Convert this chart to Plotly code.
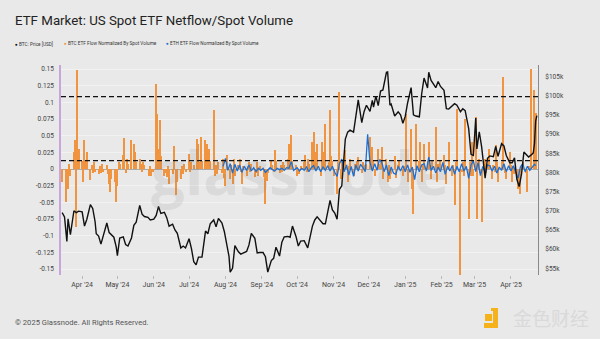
import plotly.graph_objects as go

# ---------------- data ----------------
price_dates = [
    "2024-03-15","2024-03-17","2024-03-19","2024-03-20","2024-03-22","2024-03-25","2024-03-27","2024-03-29",
    "2024-04-01","2024-04-03","2024-04-05","2024-04-08","2024-04-10","2024-04-12","2024-04-13","2024-04-15",
    "2024-04-17","2024-04-19","2024-04-22","2024-04-24","2024-04-26","2024-04-28","2024-04-30","2024-05-01",
    "2024-05-03","2024-05-06","2024-05-08","2024-05-10","2024-05-13","2024-05-15","2024-05-17","2024-05-20",
    "2024-05-22","2024-05-24","2024-05-27","2024-05-29","2024-06-01","2024-06-03","2024-06-05","2024-06-07",
    "2024-06-10","2024-06-12","2024-06-14","2024-06-17","2024-06-19","2024-06-21","2024-06-24","2024-06-26",
    "2024-06-28","2024-07-01","2024-07-03","2024-07-05","2024-07-07","2024-07-09","2024-07-12","2024-07-15",
    "2024-07-17","2024-07-19","2024-07-22","2024-07-24","2024-07-26","2024-07-29","2024-07-31","2024-08-02",
    "2024-08-04","2024-08-05","2024-08-07","2024-08-09","2024-08-12","2024-08-14","2024-08-16","2024-08-19",
    "2024-08-21","2024-08-23","2024-08-26","2024-08-28","2024-08-30","2024-09-02","2024-09-04","2024-09-06",
    "2024-09-09","2024-09-11","2024-09-13","2024-09-16","2024-09-18","2024-09-20","2024-09-23","2024-09-25",
    "2024-09-27","2024-09-30","2024-10-02","2024-10-04","2024-10-07","2024-10-10","2024-10-14","2024-10-16",
    "2024-10-18","2024-10-21","2024-10-23","2024-10-25","2024-10-29","2024-10-31","2024-11-02","2024-11-04",
    "2024-11-06","2024-11-08","2024-11-11","2024-11-13","2024-11-15","2024-11-18","2024-11-20","2024-11-22",
    "2024-11-25","2024-11-27","2024-11-29","2024-12-02","2024-12-04","2024-12-05","2024-12-07","2024-12-09",
    "2024-12-11","2024-12-13","2024-12-16","2024-12-17","2024-12-19","2024-12-20","2024-12-23","2024-12-26",
    "2024-12-28","2024-12-30","2025-01-01","2025-01-03","2025-01-06","2025-01-08","2025-01-10","2025-01-13",
    "2025-01-15","2025-01-17","2025-01-20","2025-01-21","2025-01-23","2025-01-26","2025-01-27","2025-01-29",
    "2025-01-31","2025-02-03","2025-02-05","2025-02-07","2025-02-10","2025-02-12","2025-02-14","2025-02-17",
    "2025-02-19","2025-02-21","2025-02-24","2025-02-26","2025-02-28","2025-03-02","2025-03-03","2025-03-05",
    "2025-03-07","2025-03-10","2025-03-12","2025-03-14","2025-03-17","2025-03-19","2025-03-21","2025-03-24",
    "2025-03-26","2025-03-28","2025-03-31","2025-04-02","2025-04-04","2025-04-06","2025-04-08","2025-04-10",
    "2025-04-12","2025-04-14","2025-04-16","2025-04-18","2025-04-20","2025-04-21","2025-04-22","2025-04-23",
]
price_vals = [
    69.5, 68.4, 62.0, 67.9, 63.8, 70.0, 69.5, 69.9,
    69.7, 66.0, 67.8, 71.6, 70.6, 67.2, 64.0, 63.4,
    61.3, 63.8, 66.8, 64.3, 63.8, 63.1, 60.6, 58.3,
    62.9, 63.2, 61.2, 60.8, 62.9, 66.2, 67.0, 71.4,
    69.1, 68.5, 68.3, 67.6, 67.8, 68.8, 71.1, 69.3,
    69.6, 68.2, 66.0, 66.5, 65.0, 64.1, 60.3, 60.8,
    60.3, 62.7, 60.2, 56.7, 55.9, 57.9, 57.9, 64.7,
    64.0, 66.6, 67.6, 65.8, 68.0, 66.8, 64.6, 61.4,
    58.1, 54.0, 55.0, 60.9, 59.3, 58.7, 58.9, 59.4,
    61.1, 64.1, 62.8, 59.0, 59.1, 59.1, 58.0, 54.0,
    57.0, 57.6, 60.5, 58.2, 61.8, 63.2, 63.3, 63.1,
    66.0, 63.3, 60.8, 62.1, 62.2, 60.3, 66.0, 67.6,
    68.4, 67.4, 66.6, 66.6, 72.7, 70.2, 69.4, 67.8,
    75.6, 76.5, 88.7, 90.5, 91.0, 90.5, 94.3, 98.9,
    93.0, 95.9, 97.5, 95.9, 98.8, 97.0, 99.9, 97.4,
    101.2, 101.5, 106.1, 106.2, 97.5, 97.8, 94.7, 95.8,
    95.0, 92.8, 94.6, 98.1, 102.1, 95.0, 94.7, 94.5,
    100.5, 104.6, 102.0, 106.1, 104.0, 102.6, 102.1, 103.7,
    102.4, 101.4, 96.6, 96.5, 97.4, 97.9, 97.5, 95.8,
    96.6, 96.1, 91.4, 84.7, 84.4, 94.2, 86.1, 90.6,
    86.7, 78.5, 83.7, 84.3, 84.1, 86.8, 84.2, 87.5,
    86.9, 84.4, 82.5, 82.5, 83.8, 78.2, 76.3, 79.6,
    85.3, 84.5, 84.0, 84.5, 85.1, 87.5, 93.4, 94.8,
]

btc_flow = [
    ("2024-03-15",-0.02),("2024-03-18",-0.049),("2024-03-19",-0.012),("2024-03-20",-0.03),("2024-03-21",0.008),
    ("2024-03-22",-0.01),("2024-03-25",0.026),("2024-03-26",0.044),("2024-03-27",-0.087),("2024-03-28",0.149),
    ("2024-03-29",0.03),("2024-04-01",0.012),("2024-04-02",-0.02),("2024-04-03",0.044),("2024-04-04",0.012),
    ("2024-04-05",0.026),("2024-04-08",-0.016),("2024-04-09",0.006),("2024-04-10",-0.006),("2024-04-11",0.011),
    ("2024-04-12",-0.004),("2024-04-15",-0.008),("2024-04-16",0.004),("2024-04-17",-0.006),("2024-04-18",0.008),
    ("2024-04-19",-0.005),("2024-04-22",0.006),("2024-04-23",-0.008),("2024-04-24",-0.023),("2024-04-25",-0.034),
    ("2024-04-26",-0.015),("2024-04-29",-0.02),("2024-04-30",-0.049),("2024-05-01",-0.025),("2024-05-02",0.011),
    ("2024-05-03",0.008),("2024-05-06",0.021),("2024-05-07",0.046),("2024-05-08",-0.006),("2024-05-09",0.015),
    ("2024-05-10",0.007),("2024-05-13",0.044),("2024-05-15",0.037),("2024-05-16",0.026),("2024-05-17",0.01),
    ("2024-05-20",0.015),("2024-05-21",0.008),("2024-05-22",-0.005),("2024-05-23",0.011),("2024-05-24",0.006),
    ("2024-05-28",-0.01),("2024-05-29",0.005),("2024-05-30",-0.011),("2024-05-31",-0.004),("2024-06-03",0.127),
    ("2024-06-04",0.082),("2024-06-05",0.03),("2024-06-06",0.074),("2024-06-07",0.02),("2024-06-10",-0.01),
    ("2024-06-11",-0.006),("2024-06-12",-0.012),("2024-06-13",0.005),("2024-06-14",-0.022),("2024-06-17",-0.008),
    ("2024-06-18",0.034),("2024-06-20",-0.039),("2024-06-21",-0.02),("2024-06-24",-0.015),("2024-06-25",0.005),
    ("2024-06-26",-0.008),("2024-06-27",0.008),("2024-06-28",-0.004),("2024-07-01",0.022),("2024-07-02",-0.005),
    ("2024-07-03",0.011),("2024-07-05",0.006),("2024-07-08",0.045),("2024-07-09",0.038),("2024-07-10",0.01),
    ("2024-07-11",0.048),("2024-07-12",0.012),("2024-07-15",0.044),("2024-07-16",0.037),("2024-07-17",0.01),
    ("2024-07-18",0.03),("2024-07-19",0.012),("2024-07-22",0.089),("2024-07-23",-0.01),("2024-07-24",0.006),
    ("2024-07-25",-0.008),("2024-07-26",0.01),("2024-07-29",-0.006),("2024-07-30",0.015),("2024-07-31",-0.014),
    ("2024-08-01",-0.026),("2024-08-02",0.021),("2024-08-05",-0.015),("2024-08-06",0.006),("2024-08-07",-0.023),
    ("2024-08-08",0.015),("2024-08-09",-0.01),("2024-08-12",0.006),("2024-08-13",0.015),("2024-08-14",-0.005),
    ("2024-08-15",-0.022),("2024-08-16",0.005),("2024-08-19",-0.01),("2024-08-20",0.004),("2024-08-21",0.01),
    ("2024-08-22",-0.005),("2024-08-23",0.008),("2024-08-26",-0.012),("2024-08-27",-0.006),("2024-08-28",0.01),
    ("2024-08-29",-0.01),("2024-08-30",0.004),("2024-09-03",-0.012),("2024-09-04",-0.052),("2024-09-05",-0.018),
    ("2024-09-06",-0.006),("2024-09-09",0.012),("2024-09-10",0.006),("2024-09-11",-0.004),("2024-09-12",0.028),
    ("2024-09-13",0.012),("2024-09-16",-0.006),("2024-09-17",0.006),("2024-09-18",-0.005),("2024-09-19",0.01),
    ("2024-09-20",0.006),("2024-09-23",0.015),("2024-09-24",0.038),("2024-09-25",0.008),("2024-09-26",0.051),
    ("2024-09-27",0.012),("2024-09-30",0.006),("2024-10-01",-0.01),("2024-10-02",-0.004),("2024-10-03",-0.008),
    ("2024-10-04",0.005),("2024-10-07",0.01),("2024-10-08",0.021),("2024-10-09",-0.004),("2024-10-10",0.015),
    ("2024-10-11",0.008),("2024-10-14",0.041),("2024-10-15",0.056),("2024-10-16",0.012),("2024-10-17",0.026),
    ("2024-10-18",0.037),("2024-10-21",-0.01),("2024-10-22",0.041),("2024-10-23",0.006),("2024-10-24",0.026),
    ("2024-10-25",0.067),("2024-10-28",0.01),("2024-10-29",0.089),("2024-10-30",0.02),("2024-10-31",0.012),
    ("2024-11-01",-0.01),("2024-11-04",-0.037),("2024-11-05",0.01),("2024-11-06",0.115),("2024-11-07",-0.015),
    ("2024-11-08",0.01),("2024-11-11",0.028),("2024-11-12",0.006),("2024-11-13",-0.02),("2024-11-14",0.005),
    ("2024-11-15",0.015),("2024-11-18",-0.01),("2024-11-19",0.008),("2024-11-20",0.005),("2024-11-21",0.012),
    ("2024-11-22",0.018),("2024-11-25",-0.006),("2024-11-26",0.01),("2024-11-27",0.006),("2024-11-29",0.008),
    ("2024-12-02",0.048),("2024-12-03",0.006),("2024-12-04",0.033),("2024-12-05",0.012),("2024-12-06",-0.01),
    ("2024-12-09",0.03),("2024-12-10",0.008),("2024-12-11",0.015),("2024-12-12",0.033),("2024-12-13",-0.015),
    ("2024-12-16",0.015),("2024-12-17",-0.02),("2024-12-18",0.006),("2024-12-19",-0.015),("2024-12-20",-0.008),
    ("2024-12-23",0.02),("2024-12-24",-0.014),("2024-12-26",0.006),("2024-12-27",0.012),("2024-12-30",-0.01),
    ("2024-12-31",0.005),("2025-01-02",0.083),("2025-01-03",-0.02),("2025-01-06",0.06),("2025-01-07",-0.03),
    ("2025-01-08",-0.068),("2025-01-10",0.067),("2025-01-13",0.012),("2025-01-14",0.041),("2025-01-15",-0.02),
    ("2025-01-16",0.006),("2025-01-17",0.037),("2025-01-20",0.012),("2025-01-21",0.041),("2025-01-22",0.006),
    ("2025-01-23",-0.015),("2025-01-24",0.012),("2025-01-27",0.063),("2025-01-28",-0.02),("2025-01-29",0.008),
    ("2025-01-30",0.006),("2025-01-31",0.012),("2025-02-03",0.021),("2025-02-04",0.006),("2025-02-05",-0.022),
    ("2025-02-06",0.005),("2025-02-07",0.041),("2025-02-10",-0.01),("2025-02-11",0.006),("2025-02-12",-0.054),
    ("2025-02-13",0.01),("2025-02-14",0.09),("2025-02-17",-0.16),("2025-02-18",-0.005),("2025-02-19",0.01),
    ("2025-02-20",-0.01),("2025-02-21",0.075),("2025-02-24",-0.075),("2025-02-25",0.01),("2025-02-26",-0.01),
    ("2025-02-27",0.04),("2025-02-28",-0.01),("2025-03-02",0.078),("2025-03-03",-0.075),("2025-03-04",0.008),
    ("2025-03-05",0.015),("2025-03-06",-0.006),("2025-03-07",-0.08),("2025-03-10",0.015),("2025-03-11",-0.006),
    ("2025-03-12",0.008),("2025-03-13",0.03),("2025-03-14",0.006),("2025-03-16",-0.015),("2025-03-17",0.006),
    ("2025-03-18",-0.005),("2025-03-19",0.036),("2025-03-20",0.01),("2025-03-21",-0.02),("2025-03-24",0.01),
    ("2025-03-25",0.138),("2025-03-26",0.008),("2025-03-27",-0.006),("2025-03-28",-0.015),("2025-03-31",0.026),
    ("2025-04-01",0.006),("2025-04-02",-0.02),("2025-04-03",0.005),("2025-04-04",-0.008),("2025-04-07",-0.03),
    ("2025-04-08",-0.01),("2025-04-09",-0.037),("2025-04-10",0.006),("2025-04-11",0.01),("2025-04-14",-0.006),
    ("2025-04-15",-0.035),("2025-04-16",0.005),("2025-04-18",0.15),("2025-04-21",0.119),("2025-04-22",0.084),
]
btc_flow_dates = [d for d, _ in btc_flow]
btc_flow_vals = [v for _, v in btc_flow]

eth_flow = [
    ("2024-07-30",0.004),("2024-08-01",0.016),("2024-08-03",-0.002),("2024-08-05",0.008),("2024-08-07",-0.006),
    ("2024-08-09",0.007),("2024-08-11",-0.003),("2024-08-13",0.006),("2024-08-15",-0.005),("2024-08-17",0.004),
    ("2024-08-19",-0.002),("2024-08-21",0.006),("2024-08-23",-0.003),("2024-08-25",0.002),("2024-08-27",-0.004),
    ("2024-08-29",0.001),("2024-08-31",-0.002),("2024-09-02",0.001),("2024-09-04",-0.005),("2024-09-06",-0.002),
    ("2024-09-08",0.002),("2024-09-10",-0.001),("2024-09-12",-0.003),("2024-09-14",0.001),("2024-09-16",-0.001),
    ("2024-09-18",0.001),("2024-09-20",-0.002),("2024-09-22",0.002),("2024-09-24",0.001),("2024-09-26",0.011),
    ("2024-09-28",-0.002),("2024-10-01",0.002),("2024-10-03",-0.003),("2024-10-05",0.001),("2024-10-07",-0.002),
    ("2024-10-09",0.003),("2024-10-11",-0.004),("2024-10-13",0.002),("2024-10-15",0.005),("2024-10-17",-0.003),
    ("2024-10-19",0.004),("2024-10-21",-0.004),("2024-10-23",0.003),("2024-10-25",-0.002),("2024-10-27",0.005),
    ("2024-10-29",-0.003),("2024-10-31",0.004),("2024-11-02",-0.005),("2024-11-04",-0.011),("2024-11-06",0.008),
    ("2024-11-08",0.015),("2024-11-10",-0.004),("2024-11-12",0.006),("2024-11-14",-0.009),("2024-11-16",0.004),
    ("2024-11-18",-0.011),("2024-11-20",0.006),("2024-11-22",-0.003),("2024-11-24",0.007),("2024-11-26",0.002),
    ("2024-11-28",-0.004),("2024-11-30",0.052),("2024-12-02",0.01),("2024-12-04",-0.003),("2024-12-06",0.008),
    ("2024-12-08",-0.002),("2024-12-10",0.014),("2024-12-12",0.01),("2024-12-14",-0.004),("2024-12-16",0.006),
    ("2024-12-18",-0.01),("2024-12-20",0.003),("2024-12-22",-0.006),("2024-12-24",-0.008),("2024-12-26",0.004),
    ("2024-12-28",-0.003),("2024-12-30",0.005),("2025-01-01",-0.004),("2025-01-03",0.006),("2025-01-05",-0.005),
    ("2025-01-07",0.003),("2025-01-09",-0.016),("2025-01-11",0.005),("2025-01-13",-0.004),("2025-01-15",0.006),
    ("2025-01-17",0.008),("2025-01-19",-0.003),("2025-01-21",0.018),("2025-01-23",-0.002),("2025-01-25",0.004),
    ("2025-01-27",-0.006),("2025-01-29",0.003),("2025-01-31",-0.004),("2025-02-02",0.01),("2025-02-04",-0.008),
    ("2025-02-06",0.004),("2025-02-08",-0.003),("2025-02-10",0.005),("2025-02-12",-0.008),("2025-02-14",0.004),
    ("2025-02-16",-0.004),("2025-02-18",0.008),("2025-02-20",-0.003),("2025-02-22",0.004),("2025-02-24",-0.014),
    ("2025-02-26",0.006),("2025-02-28",0.012),("2025-03-02",-0.004),("2025-03-04",0.01),("2025-03-06",-0.01),
    ("2025-03-08",0.004),("2025-03-10",-0.005),("2025-03-12",0.006),("2025-03-14",0.005),("2025-03-16",-0.003),
    ("2025-03-18",0.004),("2025-03-20",-0.006),("2025-03-22",0.003),("2025-03-24",-0.002),("2025-03-26",0.008),
    ("2025-03-28",-0.004),("2025-03-30",0.005),("2025-04-01",-0.003),("2025-04-03",0.005),("2025-04-05",-0.004),
    ("2025-04-07",-0.014),("2025-04-09",0.003),("2025-04-11",0.008),("2025-04-13",-0.004),("2025-04-15",0.004),
    ("2025-04-17",-0.002),("2025-04-19",0.003),("2025-04-21",0.007),("2025-04-22",0.005),
]
eth_flow_dates = [d for d, _ in eth_flow]
eth_flow_vals = [v for _, v in eth_flow]

threshold_levels = [0.1085, 0.0125]

left_tick_vals = [0.15, 0.125, 0.1, 0.075, 0.05, 0.025, 0, -0.025, -0.05, -0.075, -0.1, -0.125, -0.15]
left_tick_text = ["0.15", "0.125", "0.1", "0.075", "0.05", "0.025", "0", "-0.025", "-0.05", "-0.075", "-0.1", "-0.125", "-0.15"]
right_tick_vals = [55, 60, 65, 70, 75, 80, 85, 90, 95, 100, 105]
right_tick_text = ["$55k", "$60k", "$65k", "$70k", "$75k", "$80k", "$85k", "$90k", "$95k", "$100k", "$105k"]
month_ticks = ["2024-04-01","2024-05-01","2024-06-01","2024-07-01","2024-08-01","2024-09-01","2024-10-01",
               "2024-11-01","2024-12-01","2025-01-01","2025-02-01","2025-03-01","2025-04-01"]
month_labels = ["Apr '24","May '24","Jun '24","Jul '24","Aug '24","Sep '24","Oct '24",
                "Nov '24","Dec '24","Jan '25","Feb '25","Mar '25","Apr '25"]

# ---------------- layout geometry ----------------
W, H = 600, 339
L, R, T, B = 61, 538, 65, 275
BG = "#e9e9e9"
ORANGE = "#f0943f"
BLUE = "#1a6fd6"

def px(x):
    return (x - L) / (R - L)

def py(y):
    return (B - y) / (B - T)

fig = go.Figure()
fig.add_trace(go.Bar(x=btc_flow_dates, y=btc_flow_vals, marker=dict(color=ORANGE, line=dict(width=0)),
                     width=86400000 * 0.9, name="BTC ETF Flow Normalized By Spot Volume", yaxis="y"))
fig.add_trace(go.Scatter(x=eth_flow_dates, y=eth_flow_vals, mode="lines", line=dict(color=BLUE, width=1.3),
                         name="ETH ETF Flow Normalized By Spot Volume", yaxis="y"))
fig.add_trace(go.Scatter(x=price_dates, y=price_vals, mode="lines", line=dict(color="#111111", width=1.4),
                         name="BTC: Price [USD]", yaxis="y2"))

shapes = []
for lv in threshold_levels:
    shapes.append(dict(type="line", xref="paper", x0=0, x1=1, yref="y", y0=lv, y1=lv,
                       line=dict(color="#111111", width=1.2, dash="5px,3px"), layer="above"))
# jinse logo icon
shapes.append(dict(type="rect", xref="paper", yref="paper", x0=px(485), x1=px(492), y0=py(321), y1=py(314),
                   fillcolor="#f5b21a", line=dict(width=0)))
shapes.append(dict(type="path", xref="paper", yref="paper",
                   path=f"M {px(491)} {py(308)} L {px(498)} {py(308)} L {px(498)} {py(328)} L {px(484)} {py(328)} "
                        f"L {px(484)} {py(323)} L {px(493)} {py(323)} L {px(493)} {py(311)} L {px(491)} {py(311)} Z",
                   fillcolor="#f5b21a", line=dict(width=0)))

LEG = dict(family="Roboto", size=4.7, color="#333333")
annotations = [
    dict(text="ETF Market: US Spot ETF Netflow/Spot Volume", x=px(13), y=py(20), xref="paper", yref="paper",
         xanchor="left", yanchor="middle", showarrow=False,
         font=dict(family="Roboto", size=13.3, color="#222222")),
    dict(text="<span style='color:#111111'>●</span> BTC: Price [USD]", x=px(13), y=py(44), xref="paper", yref="paper",
         xanchor="left", yanchor="middle", showarrow=False, font=LEG),
    dict(text=f"<span style='color:{ORANGE}'>●</span> BTC ETF Flow Normalized By Spot Volume", x=px(62), y=py(44),
         xref="paper", yref="paper", xanchor="left", yanchor="middle", showarrow=False, font=LEG),
    dict(text=f"<span style='color:{BLUE}'>●</span> ETH ETF Flow Normalized By Spot Volume", x=px(164), y=py(44),
         xref="paper", yref="paper", xanchor="left", yanchor="middle", showarrow=False, font=LEG),
    dict(text="© 2025 Glassnode. All Rights Reserved.", x=px(13), y=py(322), xref="paper", yref="paper",
         xanchor="left", yanchor="middle", showarrow=False,
         font=dict(family="Roboto", size=7.6, color="#555555")),
    dict(text="<b>glassnode</b>", x=px(300), y=py(172), xref="paper", yref="paper", xanchor="center", yanchor="middle",
         showarrow=False, font=dict(family="Open Sans", size=60, color="rgba(120,120,120,0.13)")),
    dict(text="金色财经", x=px(511), y=py(317), xref="paper", yref="paper", xanchor="left", yanchor="middle",
         showarrow=False, font=dict(family="Noto Sans CJK SC", size=19, color="#d9d9d9")),
]

fig.update_layout(
    width=W, height=H,
    margin=dict(l=L, r=W - R, t=T, b=H - B, pad=0),
    paper_bgcolor=BG, plot_bgcolor=BG,
    showlegend=False,
    bargap=0,
    font=dict(family="Roboto", color="#444444"),
    xaxis=dict(type="date", range=["2024-03-14", "2025-04-24"], tickvals=month_ticks, ticktext=month_labels,
               showgrid=False, zeroline=False, showline=False, ticks="outside", ticklen=3, tickcolor="#bbbbbb",
               tickfont=dict(size=7, color="#444444")),
    yaxis=dict(range=[-0.159, 0.156], tickvals=left_tick_vals, ticktext=left_tick_text,
               showgrid=True, gridcolor="#f2f2f2", gridwidth=0.8,
               zeroline=True, zerolinecolor="#aaaaaa", zerolinewidth=1,
               showline=True, linecolor="#c9a5de", linewidth=1.5,
               ticks="outside", ticklen=4, tickcolor="rgba(0,0,0,0)",
               tickfont=dict(size=6.5, color="#444444")),
    yaxis2=dict(overlaying="y", side="right", range=[53.25, 108.0], tickvals=right_tick_vals,
                ticktext=right_tick_text, showgrid=False, zeroline=False,
                showline=True, linecolor="#8a8a8a", linewidth=1,
                ticks="outside", ticklen=5, tickcolor="rgba(0,0,0,0)",
                tickfont=dict(size=6.5, color="#444444")),
    shapes=shapes,
    annotations=annotations,
)

fig.write_html("out.html")
